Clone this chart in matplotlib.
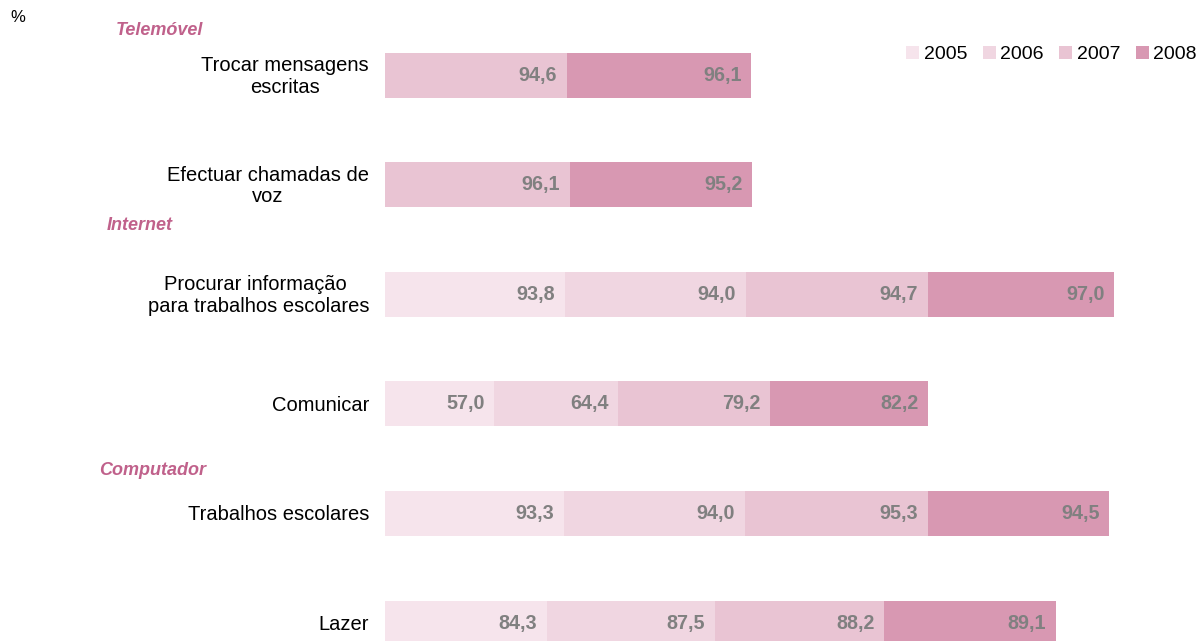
import numpy as np
import matplotlib
matplotlib.use("Agg")
import matplotlib.pyplot as plt

plt.rcParams['font.family'] = ['Liberation Sans', 'DejaVu Sans']

categories = ["Trocar mensagens\nescritas", "Efectuar chamadas de\nvoz",
              "Procurar informação \npara trabalhos escolares", "Comunicar",
              "Trabalhos escolares", "Lazer"]
years = ["2005", "2006", "2007", "2008"]
v2005 = [np.nan, np.nan, 93.8, 57.0, 93.3, 84.3]
v2006 = [np.nan, np.nan, 94.0, 64.4, 94.0, 87.5]
v2007 = [94.6, 96.1, 94.7, 79.2, 95.3, 88.2]
v2008 = [96.1, 95.2, 97.0, 82.2, 94.5, 89.1]
groups = [("Telemóvel", 0), ("Internet", 2), ("Computador", 4)]

colors = ["#f6e4ec", "#f0d6e1", "#e9c4d3", "#d898b2"]
label_color = "#808080"
group_color = "#c0618b"

W, H = 1200, 641
fig = plt.figure(figsize=(W / 100, H / 100), dpi=100)
ax_left = 385 / W
ax = fig.add_axes([ax_left, 0, 1 - ax_left, 1])

px_per_unit = 1.921
ax.set_xlim(0, (W - 385) / px_per_unit)
px_per_row = 109.6
ax.set_ylim(5 + (H - 623) / px_per_row, -75 / px_per_row)
ax.axis("off")

y = np.arange(len(categories))
left = np.zeros(len(categories))
handles = []
for vals, yr, col in zip([v2005, v2006, v2007, v2008], years, colors):
    arr = np.array(vals, dtype=float)
    w = np.nan_to_num(arr)
    bars = ax.barh(y, w, left=left, height=45 / px_per_row, color=col,
                   edgecolor="none", label=yr)
    handles.append(bars)
    for yi, (l, v) in enumerate(zip(left, arr)):
        if not np.isnan(v):
            ax.annotate(f"{v:.1f}".replace(".", ","), xy=(l + v, yi),
                        xytext=(-7, 0), textcoords="offset points",
                        ha="right", va="center", fontsize=14.2,
                        fontweight="bold", color=label_color)
    left = left + w

for yi, cat in enumerate(categories):
    ax.annotate(cat, xy=(0, yi), xytext=(-11.5, -1.0), textcoords="offset points",
                ha="right", va="center", multialignment="center",
                fontsize=14.5, color="black", linespacing=1.18,
                annotation_clip=False)

group_pos = {"Telemóvel": (116, 30.5), "Internet": (107, 225), "Computador": (99, 470.5)}
for name, _ in groups:
    gx, gy = group_pos[name]
    fig.text(gx / W, 1 - gy / H, name, ha="left", va="center", fontsize=13,
             fontweight="bold", fontstyle="italic", color=group_color)

fig.text(10 / W, 1 - 18 / H, "%", ha="left", va="center", fontsize=12,
         color="black")

leg = ax.legend(handles=handles, labels=years, ncol=4, loc="upper right",
                bbox_to_anchor=(1197 / W, 1 - 46 / H),
                bbox_transform=fig.transFigure, frameon=False,
                fontsize=14, handlelength=0.65, handleheight=0.65,
                handletextpad=0.25, columnspacing=0.8, borderpad=0,
                borderaxespad=0)

fig.savefig("out.png", dpi=100)
